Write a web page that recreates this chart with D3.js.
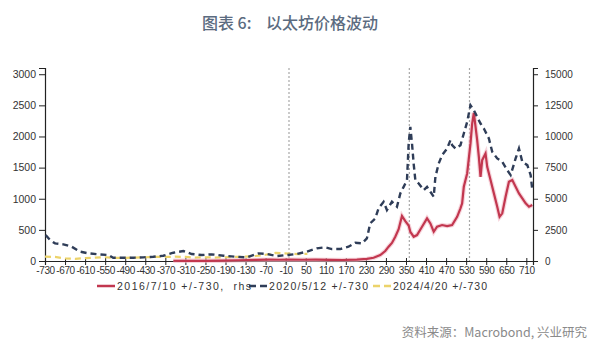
<!DOCTYPE html>
<html>
<head>
<meta charset="utf-8">
<script src="https://cdn.jsdelivr.net/npm/d3@7/dist/d3.min.js"></script>
<style>
  body { margin: 0; background: #fff; }
  svg { display: block; }
</style>
</head>
<body>
<div id="chart"></div>
<script>
// days relative to each halving / event date
const xTicks = d3.range(-730, 711, 60);
const markerDays = [0, 360, 540];

// 2016/7/10 +/-730 (right axis)
const days2016 = [-346, -320, -290, -250, -200, -150, -100, -60, -30, 0, 40, 80, 123, 160, 203, 233, 253, 273, 288, 298, 308, 318, 328, 338, 348, 358, 363, 373, 383, 398, 413, 423, 433, 443, 458, 473, 488, 503, 513, 518, 523, 533, 543, 548, 553, 563, 568, 573, 578, 588, 593, 603, 613, 623, 630, 638, 648, 658, 668, 678, 688, 698, 708, 718, 728];
const vals2016 = [20, 15, 15, 15, 25, 60, 90, 110, 100, 110, 100, 110, 90, 80, 110, 170, 260, 470, 800, 1150, 1450, 1950, 2550, 3610, 3200, 2850, 2350, 1950, 2085, 2750, 3420, 3020, 2350, 2750, 2890, 2810, 2890, 3550, 4230, 4630, 5960, 7030, 9440, 11040, 11900, 9700, 8360, 6760, 8100, 8640, 7560, 6500, 5430, 4360, 3550, 3830, 5160, 6360, 6500, 5960, 5430, 5030, 4630, 4360, 4490];

// 2020/5/12 +/-730 (left axis)
const days2020 = [-728, -715, -700, -675, -650, -625, -600, -570, -540, -526, -496, -466, -436, -406, -376, -346, -316, -291, -261, -231, -196, -161, -126, -91, -66, -36, -6, 24, 53, 83, 108, 128, 153, 178, 198, 218, 233, 243, 258, 268, 283, 293, 308, 323, 333, 343, 353, 358, 363, 368, 373, 378, 388, 403, 413, 423, 433, 438, 448, 458, 473, 483, 488, 498, 513, 523, 533, 543, 553, 563, 573, 583, 598, 608, 623, 638, 653, 663, 678, 688, 698, 713, 723, 728];
const vals2020 = [417, 337, 284, 268, 229, 150, 123, 107, 96, 53, 53, 53, 59, 69, 85, 133, 160, 112, 96, 107, 85, 69, 59, 123, 112, 80, 96, 112, 150, 203, 219, 192, 192, 229, 293, 283, 363, 604, 684, 845, 951, 818, 951, 871, 1085, 1191, 1299, 1888, 2154, 1888, 1560, 1299, 1246, 1139, 1191, 1112, 1032, 1352, 1567, 1700, 1807, 1941, 1861, 1807, 1861, 2048, 2234, 2502, 2422, 2315, 2208, 2128, 1968, 1754, 1647, 1593, 1460, 1380, 1647, 1807, 1593, 1540, 1380, 1139];

// 2024/4/20 +/-730 (left axis)
const days2024 = [-730, -700, -670, -640, -610, -580, -550, -520, -490, -460, -430, -400, -370, -340, -310, -280, -250, -220, -190, -160, -130, -100, -70, -40, -20, 0, 25, 55];
const vals2024 = [70, 65, 40, 35, 45, 55, 60, 50, 50, 55, 60, 65, 65, 70, 65, 55, 60, 55, 60, 65, 70, 80, 100, 130, 125, 120, 110, 115];

const leftTicks = d3.range(0, 3001, 500);
const rightTicks = d3.range(0, 15001, 2500);

const W = 600, H = 349;
const m = { left: 45, right: 67, top: 68, bottom: 88 };
const svg = d3.select('#chart').append('svg').attr('width', W).attr('height', H);

const x = d3.scaleLinear().domain([-730, 730]).range([m.left, W - m.right]);
const yL = d3.scaleLinear().domain([0, 3100]).range([H - m.bottom, m.top]);
const yR = d3.scaleLinear().domain([0, 15500]).range([H - m.bottom, m.top]);

const font = '"Liberation Sans", Arial, sans-serif';
const plain = d => String(d);

// title
svg.append('text').attr('x', 202).attr('y', 29)
  .style('font-family', '"Noto Sans CJK SC", sans-serif').style('font-size', '16px')
  .style('font-weight', '500').style('fill', '#5b6b80').text('图表 6:');
svg.append('text').attr('x', 266).attr('y', 29)
  .style('font-family', '"Noto Sans CJK SC", sans-serif').style('font-size', '16px')
  .style('font-weight', '500').style('fill', '#5b6b80').text('以太坊价格波动');

// marker lines
svg.selectAll('.marker').data(markerDays).join('line').attr('class', 'marker')
  .attr('x1', d => x(d)).attr('x2', d => x(d))
  .attr('y1', m.top).attr('y2', yL(0))
  .style('stroke', '#a8a8a8').style('stroke-width', 1.2).style('stroke-dasharray', '2,2');

// axes
const gL = svg.append('g').attr('transform', `translate(${m.left},0)`)
  .call(d3.axisLeft(yL).tickValues(leftTicks).tickFormat(plain).tickSize(6).tickPadding(3));
const gR = svg.append('g').attr('transform', `translate(${W - m.right},0)`)
  .call(d3.axisRight(yR).tickValues(rightTicks).tickFormat(plain).tickSize(5).tickPadding(7));
const gX = svg.append('g').attr('transform', `translate(0,${yL(0)})`)
  .call(d3.axisBottom(x).tickValues(xTicks).tickFormat(plain).tickSize(4).tickPadding(2));

[gL, gR, gX].forEach(g => {
  g.select('.domain').style('stroke', '#222').style('stroke-width', 1.2);
  g.selectAll('.tick line').style('stroke', '#222');
  g.selectAll('text').style('font-family', font).style('fill', '#333');
});
gL.selectAll('text').style('font-size', '10.5px');
gR.selectAll('text').style('font-size', '10px');
gX.selectAll('text').style('font-size', '10px').style('letter-spacing', '-0.4px');
gX.selectAll('.tick line').attr('y1', -3);

// series
const lineL = d3.line().x(d => x(d[0])).y(d => yL(d[1]));
const lineR = d3.line().x(d => x(d[0])).y(d => yR(d[1]));

svg.append('path').datum(d3.zip(days2024, vals2024)).attr('d', lineL)
  .style('fill', 'none').style('stroke', '#ecd36a').style('stroke-width', 2.2)
  .style('stroke-dasharray', '6,4');
svg.append('path').datum(d3.zip(days2016, vals2016)).attr('d', lineR)
  .style('fill', 'none').style('stroke', '#f2b9c4').style('stroke-width', 4.5).style('opacity', 0.6);
svg.append('path').datum(d3.zip(days2016, vals2016)).attr('d', lineR)
  .style('fill', 'none').style('stroke', '#c2374f').style('stroke-width', 2.2);
svg.append('path').datum(d3.zip(days2020, vals2020)).attr('d', lineL)
  .style('fill', 'none').style('stroke', '#2f3d58').style('stroke-width', 2.4)
  .style('stroke-dasharray', '6,4');

// legend
const legend = [
  { label: '2016/7/10 +/-730,  rhs', color: '#c2374f', dash: null, x: 97, w: 134 },
  { label: '2020/5/12 +/-730', color: '#2f3d58', dash: '7,4', x: 249, w: 99 },
  { label: '2024/4/20 +/-730', color: '#ecd36a', dash: '7,4', x: 373, w: 94 },
];
const lg = svg.selectAll('.lg').data(legend).join('g').attr('class', 'lg')
  .attr('transform', d => `translate(${d.x},286)`);
lg.append('line').attr('x1', 0).attr('x2', 18)
  .style('stroke', d => d.color).style('stroke-width', 2.5)
  .style('stroke-dasharray', d => d.dash);
lg.append('text').attr('x', 20).attr('y', 4).attr('textLength', d => d.w)
  .attr('xml:space', 'preserve')
  .style('font-family', font).style('font-size', '10.5px').style('fill', '#333')
  .text(d => d.label);

// source
svg.append('text').attr('x', 587).attr('y', 337).attr('text-anchor', 'end')
  .style('font-family', '"Noto Sans CJK SC", sans-serif').style('font-size', '12.5px')
  .style('fill', '#8a8a8a').text('资料来源：Macrobond, 兴业研究');
</script>
</body>
</html>
